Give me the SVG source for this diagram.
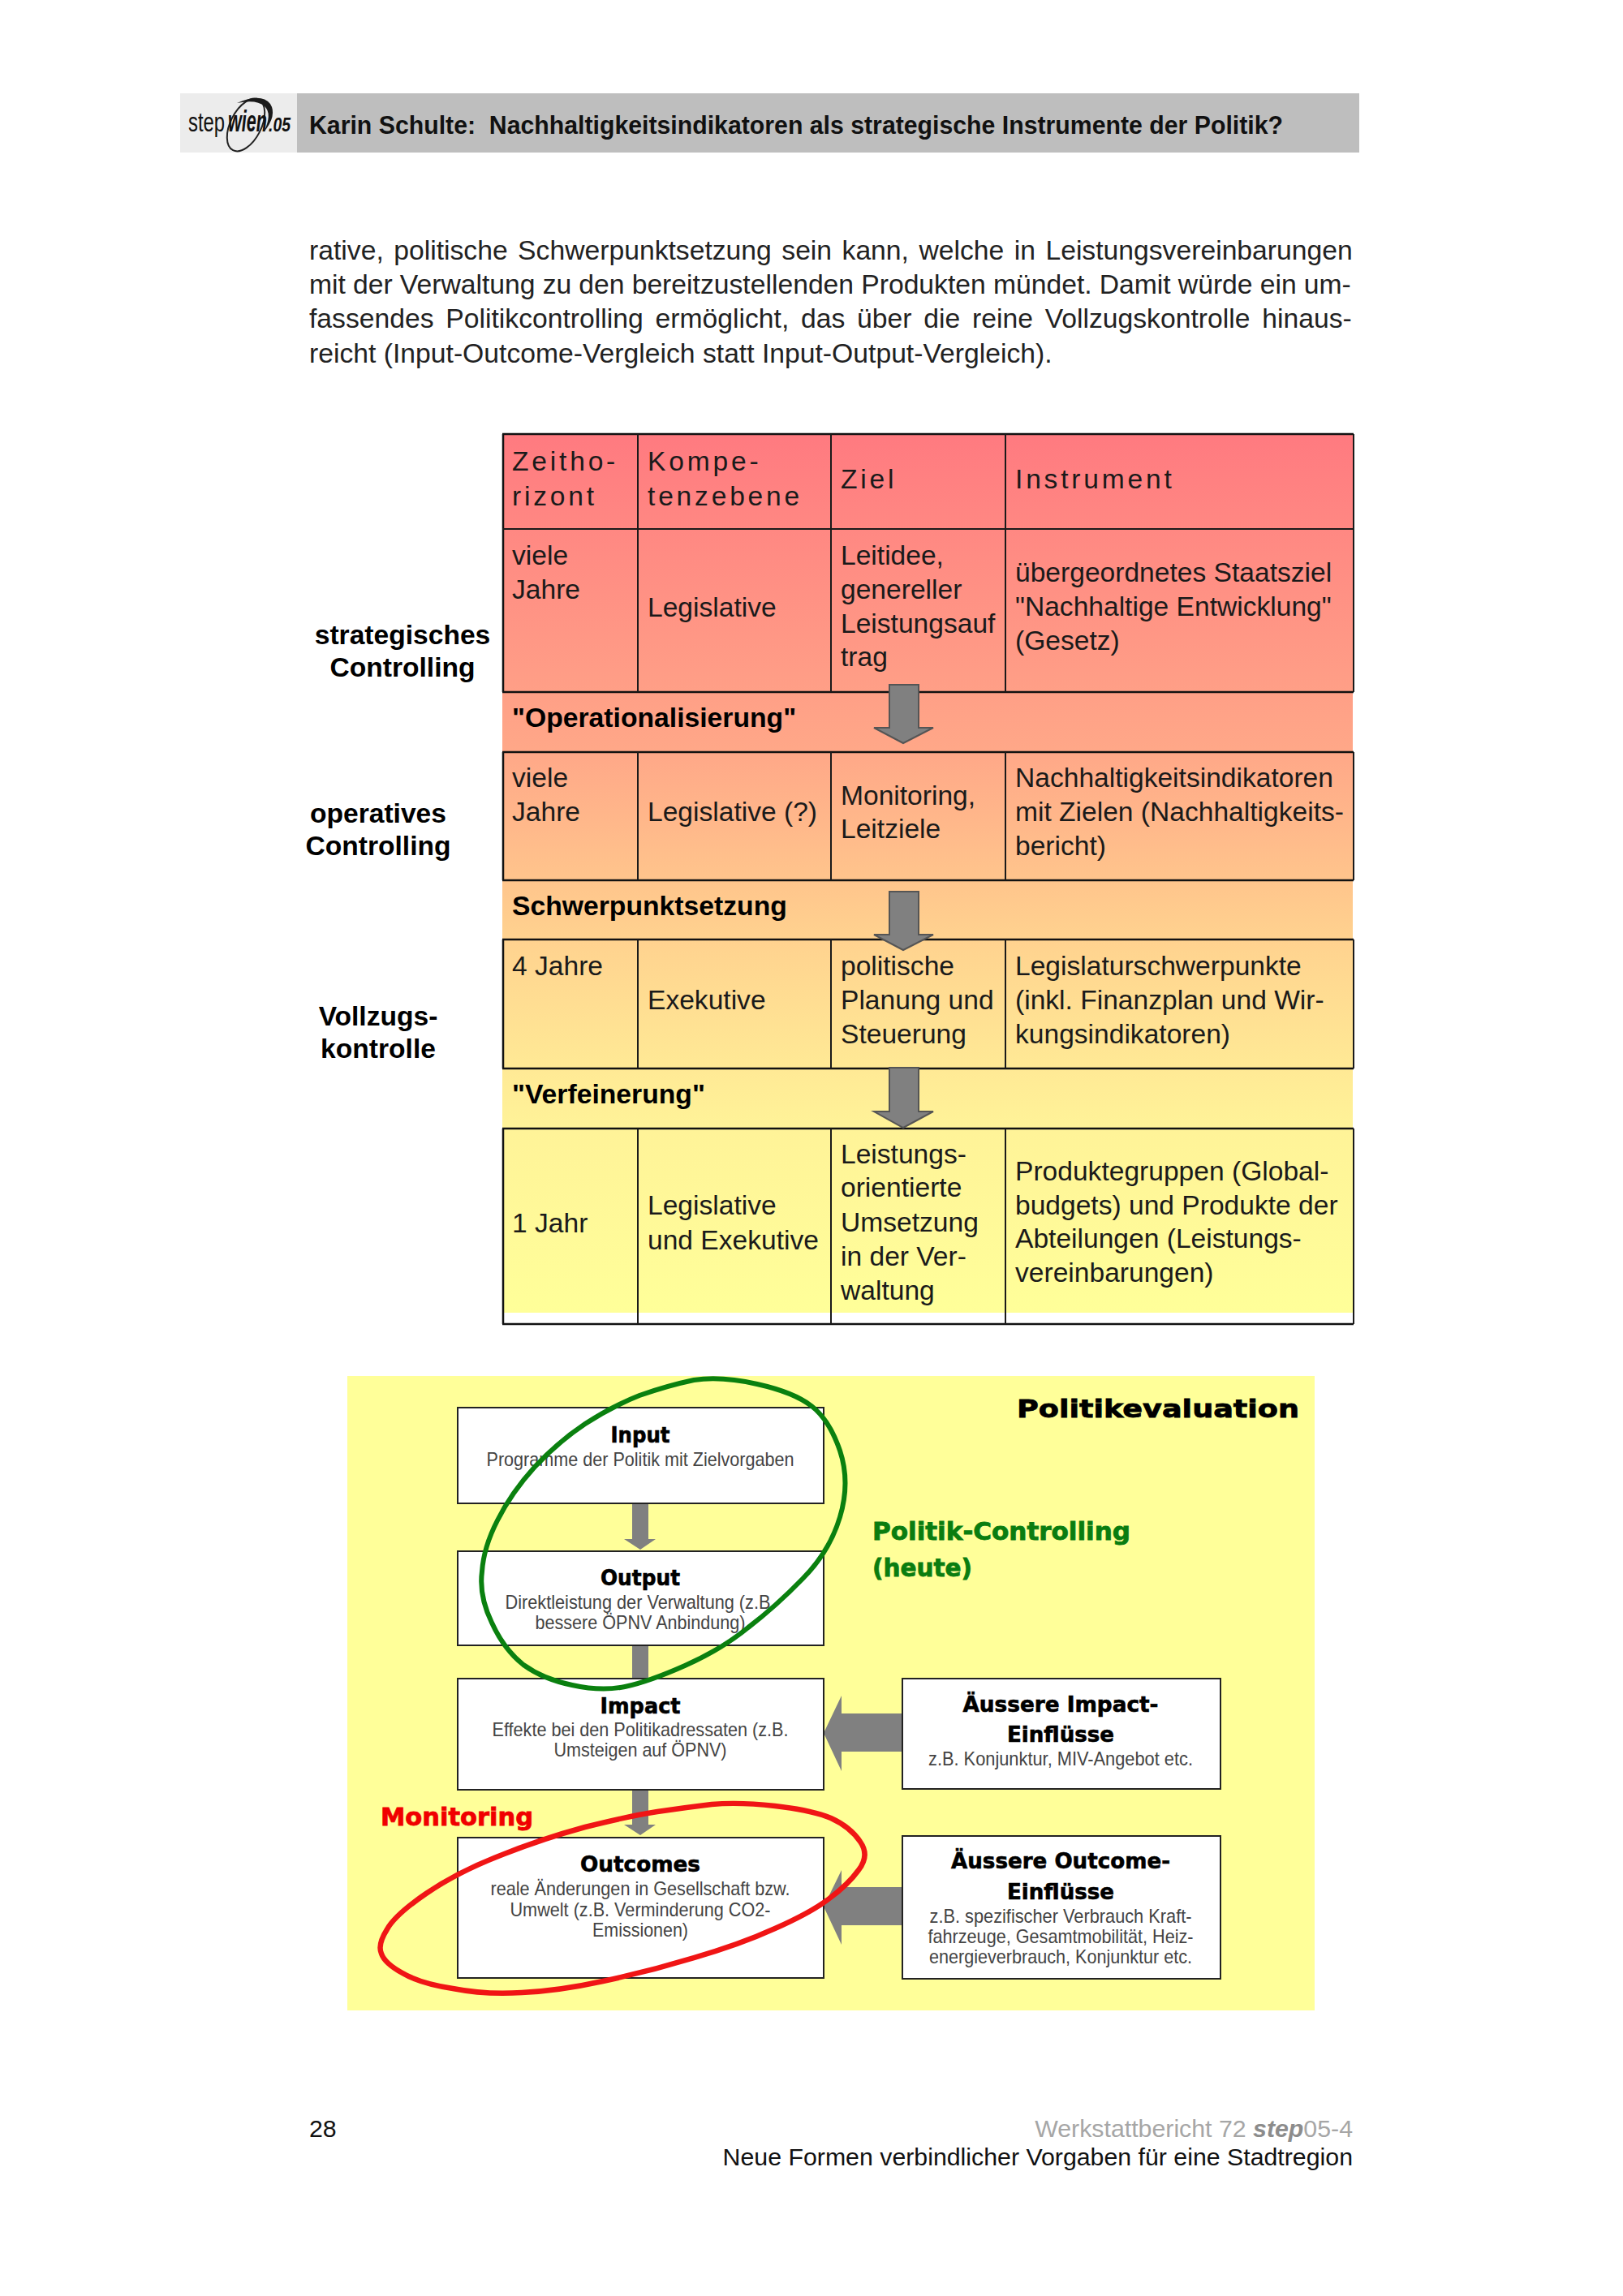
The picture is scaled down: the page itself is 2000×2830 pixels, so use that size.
<svg xmlns="http://www.w3.org/2000/svg" width="2000" height="2830" viewBox="0 0 2000 2830">
<defs>
<linearGradient id="tableGrad" gradientUnits="userSpaceOnUse" x1="0" y1="534" x2="0" y2="1618">
<stop offset="0" stop-color="#ff7a80"/><stop offset="0.365" stop-color="#ffa888"/><stop offset="0.51" stop-color="#ffc58c"/><stop offset="0.575" stop-color="#ffd28f"/><stop offset="0.72" stop-color="#ffe995"/><stop offset="0.79" stop-color="#fff398"/><stop offset="1" stop-color="#ffff99"/>
</linearGradient>
</defs>
<style>
text{font-family:"Liberation Sans",Arial,sans-serif;fill:#111}
.p{font-size:33.7px;fill:#222}
.t{font-size:33.6px;fill:#1a1a1a}
.h{font-size:33.6px;letter-spacing:3.8px;fill:#1a1a1a}
.b{font-size:33.7px;font-weight:700;fill:#000}
.side{font-size:33.6px;font-weight:700;text-anchor:middle;fill:#000}
.line{stroke:#1a1a1a;stroke-width:2;fill:none}
.hv{stroke:#111;stroke-width:2.5;fill:none}
.arrow{fill:#808080;stroke:#555;stroke-width:2}
.flow{fill:#808080}
.box{fill:#fff;stroke:#222;stroke-width:2}
.bt{font-family:"DejaVu Sans",sans-serif;font-weight:700;font-size:26px;text-anchor:middle;fill:#000;stroke:#000;stroke-width:.6}
.st{font-size:24px;text-anchor:middle;fill:#444}
.lab{font-family:"DejaVu Sans",sans-serif;font-weight:700;font-size:30px;stroke-width:.8}
.foot{font-size:30.3px}
</style>

<g id="header">
<rect x="222" y="115" width="1453" height="73" fill="#bebebe"/>
<rect x="222" y="115" width="144" height="73" fill="#ececec"/>
<g id="logo">
<ellipse cx="303" cy="154" rx="19" ry="35" transform="rotate(27 303 154)" fill="none" stroke="#222" stroke-width="2"/>
<path d="M292 127Q322 114 333 128Q342 142 325 163Q336 140 326 131Q316 122 292 127Z" fill="#1a1a1a"/>
<text x="232" y="162" font-size="33" fill="#333" textLength="45" lengthAdjust="spacingAndGlyphs">step</text>
<text x="281" y="162" font-size="36" font-weight="700" font-style="italic" fill="#111" textLength="48" lengthAdjust="spacingAndGlyphs">wien</text>
<text x="331" y="162" font-size="24" font-style="italic" font-weight="700" fill="#333" textLength="27" lengthAdjust="spacingAndGlyphs">.05</text>
</g>
<text x="381" y="165" font-size="31" font-weight="700" fill="#000" textLength="1200" lengthAdjust="spacingAndGlyphs" xml:space="preserve">Karin Schulte:  Nachhaltigkeitsindikatoren als strategische Instrumente der Politik?</text>
</g>

<g id="paragraph">
<text class="p" x="381" y="320" word-spacing="3.1">rative, politische Schwerpunktsetzung sein kann, welche in Leistungsvereinbarungen</text>
<text class="p" x="381" y="362" word-spacing="-0.24">mit der Verwaltung zu den bereitzustellenden Produkten mündet. Damit würde ein um-</text>
<text class="p" x="381" y="404" word-spacing="5.4">fassendes Politikcontrolling ermöglicht, das über die reine Vollzugskontrolle hinaus-</text>
<text class="p" x="381" y="447">reicht (Input-Outcome-Vergleich statt Input-Output-Vergleich).</text>
</g>

<g id="table">
<rect x="619" y="534" width="1049" height="1098" fill="#fff"/>
<rect x="619" y="534" width="1048" height="1084" fill="url(#tableGrad)"/>
<g id="grid">
<path class="hv" d="M619 535H1668M619 853H1668M619 927H1668M619 1085H1668M619 1158H1668M619 1317H1668M619 1391H1668M619 1632H1668M620 535V853M620 927V1085M620 1158V1317M620 1391V1632"/>
<path class="line" d="M619 652H1668M786 535V853M1024 535V853M1239 535V853M786 927V1085M1024 927V1085M1239 927V1085M786 1158V1317M1024 1158V1317M1239 1158V1317M786 1391V1632M1024 1391V1632M1239 1391V1632M1668 535V853M1668 927V1085M1668 1158V1317M1668 1391V1632"/>
</g>
<g id="row-head">
<text class="h" x="631" y="580">Zeitho-</text><text class="h" x="631" y="623">rizont</text>
<text class="h" x="798" y="580">Kompe-</text><text class="h" x="798" y="623">tenzebene</text>
<text class="h" x="1036" y="602">Ziel</text>
<text class="h" x="1251" y="602">Instrument</text>
</g>
<g id="row-strategisch">
<text class="t" x="631" y="696">viele</text><text class="t" x="631" y="738">Jahre</text>
<text class="t" x="798" y="760">Legislative</text>
<text class="t" x="1036" y="696">Leitidee,</text><text class="t" x="1036" y="738">genereller</text><text class="t" x="1036" y="780">Leistungsauf</text><text class="t" x="1036" y="821">trag</text>
<text class="t" x="1251" y="717">übergeordnetes Staatsziel</text><text class="t" x="1251" y="759">"Nachhaltige Entwicklung"</text><text class="t" x="1251" y="801">(Gesetz)</text>
</g>
<text class="b" x="631" y="896">"Operationalisierung"</text>
<g id="row-operativ">
<text class="t" x="631" y="970">viele</text><text class="t" x="631" y="1012">Jahre</text>
<text class="t" x="798" y="1012">Legislative (?)</text>
<text class="t" x="1036" y="992">Monitoring,</text><text class="t" x="1036" y="1033">Leitziele</text>
<text class="t" x="1251" y="970">Nachhaltigkeitsindikatoren</text><text class="t" x="1251" y="1012">mit Zielen (Nachhaltigkeits-</text><text class="t" x="1251" y="1054">bericht)</text>
</g>
<text class="b" x="631" y="1128">Schwerpunktsetzung</text>
<g id="row-vollzug">
<text class="t" x="631" y="1202">4 Jahre</text>
<text class="t" x="798" y="1244">Exekutive</text>
<text class="t" x="1036" y="1202">politische</text><text class="t" x="1036" y="1244">Planung und</text><text class="t" x="1036" y="1286">Steuerung</text>
<text class="t" x="1251" y="1202">Legislaturschwerpunkte</text><text class="t" x="1251" y="1244">(inkl. Finanzplan und Wir-</text><text class="t" x="1251" y="1286">kungsindikatoren)</text>
</g>
<text class="b" x="631" y="1360">"Verfeinerung"</text>
<g id="row-jahr">
<text class="t" x="631" y="1519">1 Jahr</text>
<text class="t" x="798" y="1497">Legislative</text><text class="t" x="798" y="1540">und Exekutive</text>
<text class="t" x="1036" y="1434">Leistungs-</text><text class="t" x="1036" y="1475">orientierte</text><text class="t" x="1036" y="1518">Umsetzung</text><text class="t" x="1036" y="1560">in der Ver-</text><text class="t" x="1036" y="1602">waltung</text>
<text class="t" x="1251" y="1455">Produktegruppen (Global-</text><text class="t" x="1251" y="1497">budgets) und Produkte der</text><text class="t" x="1251" y="1538">Abteilungen (Leistungs-</text><text class="t" x="1251" y="1580">vereinbarungen)</text>
</g>
<g id="table-arrows">
<polygon class="arrow" points="1096,844 1132,844 1132,897 1150,897 1113,916 1077,897 1096,897"/>
<polygon class="arrow" points="1096,1099 1132,1099 1132,1152 1150,1152 1113,1171 1077,1152 1096,1152"/>
<polygon class="arrow" points="1096,1316 1132,1316 1132,1370 1150,1370 1113,1390 1077,1370 1096,1370"/>
</g>
</g>

<g id="side-labels">
<text class="side" x="496" y="794">strategisches</text><text class="side" x="496" y="834">Controlling</text>
<text class="side" x="466" y="1014">operatives</text><text class="side" x="466" y="1054">Controlling</text>
<text class="side" x="466" y="1264">Vollzugs-</text><text class="side" x="466" y="1304">kontrolle</text>
</g>

<g id="evaluation">
<rect x="428" y="1696" width="1192" height="782" fill="#ffff99"/>
<g id="connectors">
<polygon class="flow" points="779,1853 799,1853 799,1897 808,1897 789,1910 769,1897 779,1897"/>
<polygon class="flow" points="779,2028 799,2028 799,2072 808,2072 789,2086 769,2072 779,2072"/>
<polygon class="flow" points="779,2203 799,2203 799,2249 808,2249 789,2262 769,2249 779,2249"/>
<polygon class="flow" points="1112,2112 1037,2112 1037,2090 1015,2136 1037,2183 1037,2159 1112,2159"/>
<polygon class="flow" points="1112,2326 1037,2326 1037,2305 1015,2350 1037,2397 1037,2373 1112,2373"/>
</g>
<g id="node-input">
<rect class="box" x="564" y="1735" width="451" height="118"/>
<text class="bt" x="789" y="1778" textLength="73" lengthAdjust="spacingAndGlyphs">Input</text>
<text class="st" x="789" y="1807" textLength="379" lengthAdjust="spacingAndGlyphs">Programme der Politik mit Zielvorgaben</text>
</g>
<g id="node-output">
<rect class="box" x="564" y="1912" width="451" height="116"/>
<text class="bt" x="789" y="1954" textLength="98" lengthAdjust="spacingAndGlyphs">Output</text>
<text class="st" x="789" y="1983" textLength="333" lengthAdjust="spacingAndGlyphs">Direktleistung der Verwaltung (z.B.</text>
<text class="st" x="789" y="2008" textLength="259" lengthAdjust="spacingAndGlyphs">bessere ÖPNV Anbindung)</text>
</g>
<g id="node-impact">
<rect class="box" x="564" y="2069" width="451" height="137"/>
<text class="bt" x="789" y="2112" textLength="99" lengthAdjust="spacingAndGlyphs">Impact</text>
<text class="st" x="789" y="2140" textLength="365" lengthAdjust="spacingAndGlyphs">Effekte bei den Politikadressaten (z.B.</text>
<text class="st" x="789" y="2165" textLength="213" lengthAdjust="spacingAndGlyphs">Umsteigen auf ÖPNV)</text>
</g>
<g id="node-outcomes">
<rect class="box" x="564" y="2265" width="451" height="173"/>
<text class="bt" x="789" y="2307" textLength="148" lengthAdjust="spacingAndGlyphs">Outcomes</text>
<text class="st" x="789" y="2336" textLength="369" lengthAdjust="spacingAndGlyphs">reale Änderungen in Gesellschaft bzw.</text>
<text class="st" x="789" y="2362" textLength="321" lengthAdjust="spacingAndGlyphs">Umwelt (z.B. Verminderung CO2-</text>
<text class="st" x="789" y="2387" textLength="118" lengthAdjust="spacingAndGlyphs">Emissionen)</text>
</g>
<g id="node-aeussere-impact">
<rect class="box" x="1112" y="2069" width="392" height="136"/>
<text class="bt" x="1307" y="2110" textLength="241" lengthAdjust="spacingAndGlyphs">Äussere Impact-</text>
<text class="bt" x="1307" y="2147" textLength="132" lengthAdjust="spacingAndGlyphs">Einflüsse</text>
<text class="st" x="1307" y="2176" textLength="326" lengthAdjust="spacingAndGlyphs">z.B. Konjunktur, MIV-Angebot etc.</text>
</g>
<g id="node-aeussere-outcome">
<rect class="box" x="1112" y="2263" width="392" height="176"/>
<text class="bt" x="1307" y="2303" textLength="270" lengthAdjust="spacingAndGlyphs">Äussere Outcome-</text>
<text class="bt" x="1307" y="2341" textLength="132" lengthAdjust="spacingAndGlyphs">Einflüsse</text>
<text class="st" x="1307" y="2370" textLength="323" lengthAdjust="spacingAndGlyphs">z.B. spezifischer Verbrauch Kraft-</text>
<text class="st" x="1307" y="2395" textLength="327" lengthAdjust="spacingAndGlyphs">fahrzeuge, Gesamtmobilität, Heiz-</text>
<text class="st" x="1307" y="2420" textLength="324" lengthAdjust="spacingAndGlyphs">energieverbrauch, Konjunktur etc.</text>
</g>
<path id="ring-green" fill="none" stroke="#0a800f" stroke-width="6" d="M855 1701Q889 1696 933 1706Q978 1716 1000 1733Q1022 1750 1035 1788Q1048 1827 1035 1870Q1022 1913 989 1946Q956 1980 922 2006Q889 2033 844 2053Q799 2073 770 2079Q741 2085 705 2077Q670 2070 645 2052Q621 2033 606 2000Q590 1967 594 1937Q596 1907 613 1874Q630 1840 659 1808Q688 1777 721 1755Q755 1733 788 1720Q822 1708 855 1701Z"/>
<path id="ring-red" fill="none" stroke="#f01515" stroke-width="6.5" d="M877 2224Q911 2221 955 2226Q1000 2231 1024 2241Q1048 2252 1060 2270Q1072 2287 1058 2305Q1045 2323 1022 2340Q1000 2357 955 2377Q911 2397 855 2413Q799 2430 743 2442Q688 2454 643 2456Q599 2459 558 2451Q518 2445 496 2432Q474 2420 470 2408Q465 2397 477 2378Q487 2360 525 2334Q563 2308 614 2288Q666 2267 721 2252Q777 2238 810 2233Q844 2228 877 2224Z"/>
<text class="lab" x="1253" y="1747" font-size="34" textLength="348" lengthAdjust="spacingAndGlyphs" style="fill:#000;stroke:#000">Politikevaluation</text>
<text class="lab" x="1075" y="1898" style="fill:#0a7d10;stroke:#0a7d10" textLength="318" lengthAdjust="spacingAndGlyphs">Politik-Controlling</text>
<text class="lab" x="1075" y="1943" style="fill:#0a7d10;stroke:#0a7d10" textLength="123" lengthAdjust="spacingAndGlyphs">(heute)</text>
<text class="lab" x="469" y="2250" style="fill:#f00000;stroke:#f00000" textLength="188" lengthAdjust="spacingAndGlyphs">Monitoring</text>
</g>

<g id="footer">
<text class="foot" x="381" y="2634">28</text>
<text class="foot" x="1667" y="2634" text-anchor="end" style="fill:#a6a6a6">Werkstattbericht 72 <tspan font-weight="700" font-style="italic" style="fill:#8c8c8c">step</tspan>05-4</text>
<text class="foot" x="1667" y="2669" text-anchor="end" style="fill:#111">Neue Formen verbindlicher Vorgaben für eine Stadtregion</text>
</g>
</svg>
